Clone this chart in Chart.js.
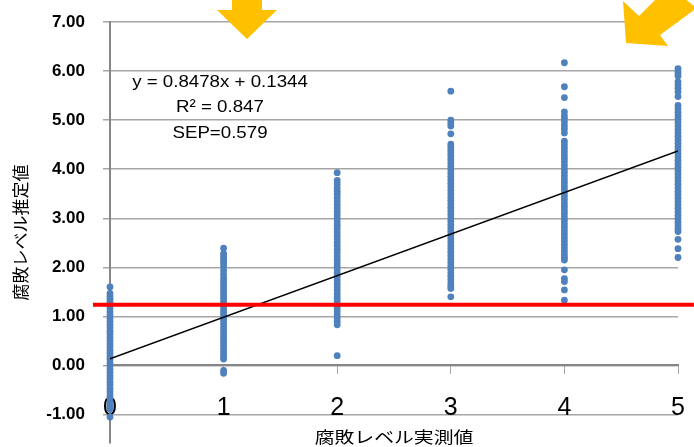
<!DOCTYPE html>
<html>
<head>
<meta charset="utf-8">
<script src="https://cdn.jsdelivr.net/npm/chart.js@4.4.0/dist/chart.umd.min.js"></script>
<style>
  html, body { margin: 0; padding: 0; background: #fff; }
  #wrap { width: 694px; height: 447px; position: relative; }
</style>
</head>
<body>
<div id="wrap"><canvas id="chart-rot"></canvas></div>
<script>
// measured level (x) vs estimated level (y), one list per measured level
const level0 = [1.60, 1.47, 1.41, 1.35, 1.29, 1.22, 1.16, 1.09, 1.03, 0.96, 0.90, 0.83, 0.77, 0.70, 0.64,
  0.57, 0.51, 0.44, 0.38, 0.31, 0.25, 0.18, 0.12, 0.05, -0.01, -0.08, -0.14, -0.21, -0.27, -0.34, -0.40,
  -0.47, -0.53, -0.60, -0.66, -0.73, -0.79, -0.85, -0.89, -1.05];
const level1 = [2.39, 2.28, 2.23, 2.18, 2.13, 2.08, 2.02, 1.94, 1.86, 1.79, 1.73, 1.67, 1.61, 1.55, 1.49,
  1.43, 1.37, 1.31, 1.25, 1.19, 1.13, 1.07, 1.01, 0.95, 0.89, 0.83, 0.77, 0.71, 0.65, 0.59, 0.53, 0.47,
  0.41, 0.35, 0.29, 0.23, 0.17, 0.13, -0.10, -0.16];
const level2 = [3.93, 3.77, 3.70, 3.62, 3.55, 3.49, 3.42, 3.35, 3.28, 3.21, 3.14, 3.07, 3.00, 2.93, 2.86,
  2.79, 2.72, 2.65, 2.58, 2.51, 2.44, 2.37, 2.30, 2.23, 2.16, 2.09, 2.02, 1.95, 1.88, 1.81, 1.74, 1.67,
  1.60, 1.53, 1.46, 1.39, 1.32, 1.25, 1.18, 1.11, 1.04, 0.97, 0.90, 0.83, 0.20];
const level3 = [5.59, 5.00, 4.94, 4.88, 4.72, 4.51, 4.45, 4.39, 4.33, 4.27, 4.20, 4.13, 4.06, 3.99, 3.92,
  3.85, 3.78, 3.71, 3.64, 3.57, 3.50, 3.43, 3.36, 3.29, 3.22, 3.15, 3.08, 3.01, 2.94, 2.87, 2.80, 2.73,
  2.66, 2.59, 2.52, 2.45, 2.38, 2.31, 2.24, 2.17, 2.10, 2.03, 1.96, 1.89, 1.82, 1.75, 1.68, 1.62, 1.57, 1.40];
const level4 = [6.17, 5.68, 5.46, 5.17, 5.09, 5.03, 4.96, 4.89, 4.82, 4.74, 4.57, 4.50, 4.43, 4.36, 4.29,
  4.22, 4.15, 4.08, 4.01, 3.94, 3.87, 3.80, 3.73, 3.66, 3.59, 3.52, 3.45, 3.38, 3.31, 3.24, 3.17, 3.10,
  3.03, 2.96, 2.89, 2.82, 2.75, 2.68, 2.61, 2.54, 2.47, 2.40, 2.33, 2.26, 2.20, 2.15, 1.95, 1.77, 1.71,
  1.54, 1.33];
const level5 = [6.05, 6.00, 5.95, 5.90, 5.78, 5.72, 5.65, 5.58, 5.48, 5.30, 5.23, 5.16, 5.09, 5.02, 4.95,
  4.88, 4.81, 4.74, 4.67, 4.60, 4.53, 4.46, 4.39, 4.32, 4.25, 4.18, 4.11, 4.04, 3.97, 3.90, 3.83, 3.76,
  3.69, 3.62, 3.55, 3.48, 3.41, 3.34, 3.27, 3.20, 3.13, 3.06, 2.99, 2.92, 2.85, 2.78, 2.73, 2.57, 2.38, 2.20];
const levels = [0, 1, 2, 3, 4, 5];
const columns = [level0, level1, level2, level3, level4, level5];

// regression line end points and the threshold line
const trendX = [0, 5];
const trendY = [0.134, 4.373];
const limitX = [-0.15, 5.14];
const limitY = [1.24, 1.24];

const yTicks = [-1, 0, 1, 2, 3, 4, 5, 6, 7];
const eqLines = ['y = 0.8478x + 0.1344', 'R² = 0.847', 'SEP=0.579'];
const xTitle = '腐敗レベル実測値';
const yTitle = '腐敗レベル推定値';

const points = [];
columns.forEach((col, i) => col.forEach(v => points.push({ x: levels[i], y: v })));
const pairs = (xs, ys) => xs.map((x, i) => ({ x, y: ys[i] }));

// ── overlay: equation box, arrows, x title ────────────────────────────────────
const overlay = {
  id: 'overlay',
  afterDraw(chart) {
    const ctx = chart.ctx;
    ctx.save();
    ctx.fillStyle = '#000';
    ctx.textAlign = 'center';
    ctx.textBaseline = 'middle';
    ctx.font = '17px "Liberation Sans", Arial, sans-serif';
    eqLines.forEach((t, i) => {
      ctx.save();
      ctx.translate(220, 82 + i * 25.5);
      ctx.scale(1.1, 1);
      ctx.fillText(t, 0, 0);
      ctx.restore();
    });
    ctx.font = '16px "Noto Sans CJK JP", sans-serif';
    ctx.save();
    ctx.translate((chart.chartArea.left + chart.chartArea.right) / 2, 437);
    ctx.scale(1.24, 1);
    ctx.fillText(xTitle, 0, 0);
    ctx.restore();

    ctx.fillStyle = '#ffc000';
    const poly = pts => {
      ctx.beginPath();
      pts.forEach(([x, y], i) => (i ? ctx.lineTo(x, y) : ctx.moveTo(x, y)));
      ctx.closePath();
      ctx.fill();
    };
    poly([[232, 0], [262, 0], [262, 10], [277, 10], [247, 39], [217, 10], [232, 10]]);
    poly([[626, 43], [623, 1], [639, 16], [669, -14], [694, 6], [694, 10], [660, 35], [668, 46]]);
    ctx.restore();
  },
};

new Chart(document.getElementById('chart-rot'), {
  type: 'scatter',
  data: {
    datasets: [
      {
        type: 'line', data: pairs(limitX, limitY), borderColor: '#ff0000', borderWidth: 4,
        pointRadius: 0, clip: false,
      },
      {
        type: 'line', data: pairs(trendX, trendY), borderColor: '#000', borderWidth: 1.5,
        pointRadius: 0,
      },
      {
        data: points, backgroundColor: '#4f81bd', borderWidth: 0, pointRadius: 3.4, clip: false,
      },
    ],
  },
  options: {
    responsive: true,
    maintainAspectRatio: false,
    animation: false,
    layout: { padding: { top: 22, right: 16, bottom: 0, left: 0 } },
    plugins: { legend: { display: false }, tooltip: { enabled: false } },
    scales: {
      x: {
        type: 'linear', min: 0, max: 5, position: { y: 0 }, z: 1,
        ticks: { stepSize: 1, color: '#000', padding: 20, font: { family: '"Liberation Sans", Arial', size: 25 } },
        grid: { drawOnChartArea: false, color: '#a6a6a6', tickLength: 8 },
        border: { color: '#868686', width: 2 },
        afterFit(s) { s.paddingLeft = 0; s.paddingRight = 0; },
      },
      y: {
        min: -1.58, max: 7,
        afterBuildTicks(s) { s.ticks = yTicks.map(v => ({ value: v })); },
        ticks: {
          color: '#000', padding: 18, callback: v => v.toFixed(2),
          font: { family: '"Liberation Sans", Arial', size: 17, weight: 'bold' },
        },
        grid: { color: '#a6a6a6', lineWidth: 1.5, tickLength: 7 },
        border: { color: '#868686', width: 2 },
        title: {
          display: true, text: yTitle, color: '#000', padding: { top: 10, bottom: 0 },
          font: { family: '"Noto Sans CJK JP", sans-serif', size: 17 },
        },
        afterFit(s) { s.width = 110; s.paddingTop = 0; s.paddingBottom = 0; },
      },
    },
  },
  plugins: [overlay],
});
</script>
</body>
</html>
